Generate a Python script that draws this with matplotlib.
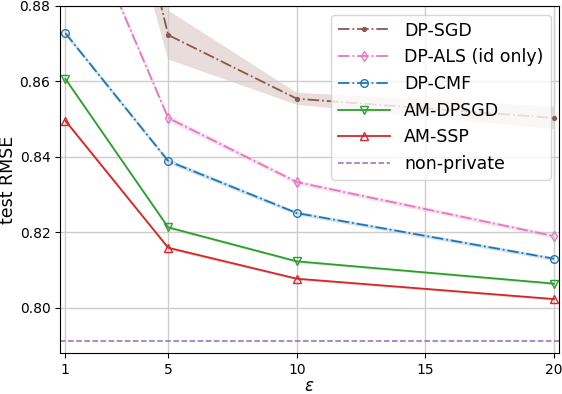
import numpy as np
from matplotlib import pyplot as plt

eps = [1, 5, 10, 20]

dp_sgd = [0.985, 0.8723, 0.8554, 0.8503]
dp_sgd_err = [0.02, 0.0065, 0.0016, 0.003]
dp_als = [0.914, 0.8503, 0.8333, 0.8190]
dp_als_err = [0.001, 0.0008, 0.0006, 0.0006]
dp_cmf = [0.8728, 0.8389, 0.8251, 0.8130]
dp_cmf_err = [0.0006, 0.0006, 0.0005, 0.0005]
am_dpsgd = [0.8607, 0.8213, 0.8123, 0.8064]
am_dpsgd_err = [0.0004, 0.0004, 0.0003, 0.0003]
am_ssp = [0.8496, 0.8159, 0.8077, 0.8023]
am_ssp_err = [0.0005, 0.0004, 0.0003, 0.0003]
non_private = 0.7913

series = [
    ("DP-SGD", dp_sgd, dp_sgd_err, "tab:brown", "-.", "."),
    ("DP-ALS (id only)", dp_als, dp_als_err, "tab:pink", "-.", "d"),
    ("DP-CMF", dp_cmf, dp_cmf_err, "tab:blue", "-.", "o"),
    ("AM-DPSGD", am_dpsgd, am_dpsgd_err, "tab:green", "-", "v"),
    ("AM-SSP", am_ssp, am_ssp_err, "tab:red", "-", "^"),
]

fig, ax = plt.subplots(figsize=(5.62, 3.94), dpi=100)
fig.subplots_adjust(left=0.107, right=0.995, top=0.985, bottom=0.104)

for name, vals, err, color, ls, marker in series:
    vals = np.array(vals)
    err = np.array(err)
    ax.fill_between(eps, vals - err, vals + err, color=color, alpha=0.2, linewidth=0)
    mfc = color if marker == "." else "none"
    ax.plot(eps, vals, linestyle=ls, marker=marker, color=color, label=name,
            markersize=5.5, markerfacecolor=mfc, linewidth=1.3)

ax.axhline(non_private, color="tab:purple", linestyle="--", linewidth=1.1, label="non-private")

ax.set_xlim(0.8, 20.2)
ax.set_ylim(0.788, 0.88)
ax.set_xticks([1, 5, 10, 15, 20])
ax.set_yticks([0.80, 0.82, 0.84, 0.86, 0.88])
ax.grid(True, color="#cccccc", linewidth=1)
ax.set_xlabel(r"$\varepsilon$", fontsize=12, labelpad=0)
ax.set_ylabel("test RMSE", fontsize=12.5, labelpad=2)
ax.tick_params(labelsize=10)
ax.legend(loc="upper right", fontsize=12.5, handlelength=3)

fig.savefig("out.png")
